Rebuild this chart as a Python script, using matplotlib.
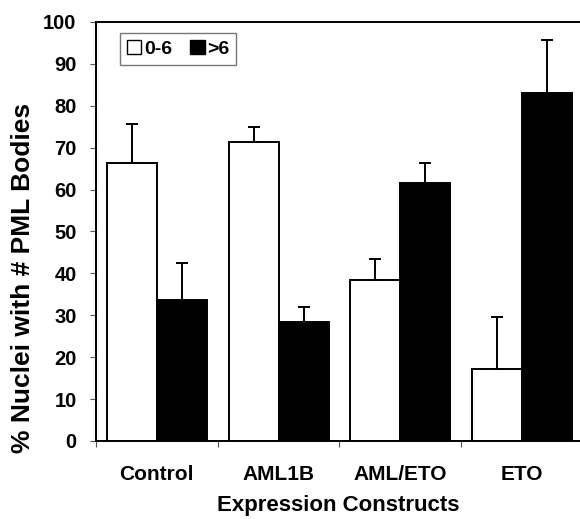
import matplotlib.pyplot as plt
import numpy as np
from matplotlib.patches import Patch

plt.rcParams['font.family'] = ['Liberation Sans', 'DejaVu Sans']
plt.rcParams['font.weight'] = 'bold'

constructs = ["Control", "AML1B", "AML/ETO", "ETO"]
low_vals = [66.4, 71.4, 38.4, 17.1]     # 0-6
low_err = [9.2, 3.5, 5.0, 12.4]
high_vals = [33.6, 28.5, 61.5, 83.1]    # >6
high_err = [9.0, 3.4, 4.8, 12.5]

fig = plt.figure(figsize=(5.8, 5.19), dpi=100)
ax = fig.add_axes([96/580, 1 - 441/519, 487/580, 419/519])

x = np.arange(len(constructs))
w = 0.41
ek = dict(ecolor='black', elinewidth=1.4, capsize=4, capthick=1.4)
ax.bar(x - w/2, low_vals, w, color='white', edgecolor='black', linewidth=1.4,
       yerr=[np.zeros(4), low_err], error_kw=ek)
ax.bar(x + w/2, high_vals, w, color='black', edgecolor='black', linewidth=1.4,
       yerr=[np.zeros(4), high_err], error_kw=ek)

ax.set_xlim(-0.5, 3.5)
ax.set_ylim(0, 100)
ax.set_yticks(np.arange(0, 101, 10))
ax.set_xticks(np.arange(-0.5, 3.6, 1))
ax.set_xticklabels([])
ax.set_xticks(x, minor=True)
ax.set_xticklabels(constructs, minor=True, fontsize=15, fontweight='bold')
ax.tick_params(axis='x', which='minor', length=0, pad=17)
ax.tick_params(axis='x', which='major', length=4, width=0.8, color='#555555')
ax.tick_params(axis='y', length=4, width=0.8, color='#555555', labelsize=14.5, pad=10)
for lab in ax.get_yticklabels():
    lab.set_fontweight('bold')

for s in ax.spines.values():
    s.set_linewidth(1.4)
ax.spines['right'].set_visible(False)

fig.text(23/580, 1 - 278/519, "% Nuclei with # PML Bodies", rotation=90,
         ha='center', va='center', fontsize=19, fontweight='bold')
fig.text(338/580, 1 - 506/519, "Expression Constructs",
         ha='center', va='center', fontsize=16, fontweight='bold')

handles = [Patch(facecolor='white', edgecolor='black', label='0-6'),
           Patch(facecolor='black', edgecolor='black', label='>6')]
leg = ax.legend(handles=handles, loc='upper left', bbox_to_anchor=(24/487, 1 - 11/419), ncol=2,
                fancybox=False, edgecolor='#777777', framealpha=1, fontsize=14,
                handlelength=0.75, handleheight=0.75, handletextpad=0.15, columnspacing=0.9,
                borderpad=0.35, borderaxespad=0)
leg.get_frame().set_linewidth(1.0)
for t in leg.get_texts():
    t.set_fontweight('bold')

fig.savefig("out.png", dpi=100)
